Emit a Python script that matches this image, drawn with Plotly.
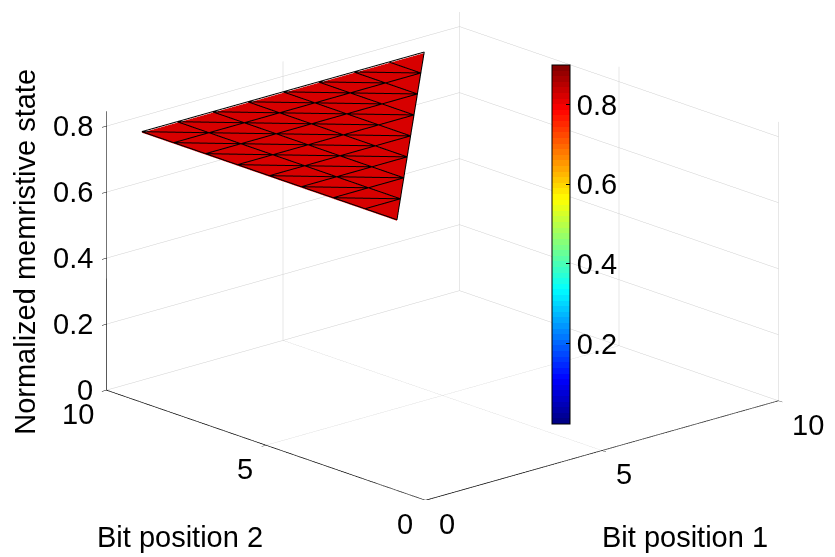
import numpy as np
import plotly.graph_objects as go

# ---------------- data ----------------
bit_positions = [1, 2, 3, 4, 5, 6, 7, 8, 9, 10]
# normalized memristive state for each bit pair (bit1 < bit2)
# row k -> bit position 1 = k+1, entries -> bit position 2 = bit1+1 .. 10
state_rows = [
    [0.75, 0.75, 0.75, 0.75, 0.75, 0.75, 0.75, 0.75, 0.75],
    [0.75, 0.75, 0.75, 0.75, 0.75, 0.75, 0.75, 0.75],
    [0.75, 0.75, 0.75, 0.75, 0.75, 0.75, 0.75],
    [0.75, 0.75, 0.75, 0.75, 0.75, 0.75],
    [0.75, 0.75, 0.75, 0.75, 0.75],
    [0.75, 0.75, 0.75, 0.75],
    [0.75, 0.75, 0.75],
    [0.75, 0.75],
    [0.75],
]
# colour data (face colour level shown on the jet colour bar)
colour_rows = [
    [0.82, 0.82, 0.82, 0.82, 0.82, 0.82, 0.82, 0.82, 0.82],
    [0.82, 0.82, 0.82, 0.82, 0.82, 0.82, 0.82, 0.82],
    [0.82, 0.82, 0.82, 0.82, 0.82, 0.82, 0.82],
    [0.82, 0.82, 0.82, 0.82, 0.82, 0.82],
    [0.82, 0.82, 0.82, 0.82, 0.82],
    [0.82, 0.82, 0.82, 0.82],
    [0.82, 0.82, 0.82],
    [0.82, 0.82],
    [0.82],
]
xy_ticks = [0, 5, 10]
z_ticks = [0, 0.2, 0.4, 0.6, 0.8]
cbar_ticks = [0.2, 0.4, 0.6, 0.8]
x_title = "Bit position 1"
y_title = "Bit position 2"
z_title = "Normalized memristive state"

# ---------------- build triangulated mesh ----------------
xs, ys, zs, cs = [], [], [], []
index = {}
for r, row in enumerate(state_rows):
    b1 = bit_positions[r]
    for c, val in enumerate(row):
        b2 = bit_positions[r + 1 + c]
        index[(b1, b2)] = len(xs)
        xs.append(b1); ys.append(b2); zs.append(val); cs.append(colour_rows[r][c])

tris = []
for (i, j) in list(index.keys()):
    if (i + 1, j) in index and (i, j + 1) in index and (i + 1, j + 1) in index:
        tris.append((index[(i, j)], index[(i + 1, j)], index[(i, j + 1)]))
        tris.append((index[(i + 1, j)], index[(i + 1, j + 1)], index[(i, j + 1)]))
    if j == i + 1 and (i, j + 1) in index and (i + 1, j + 1) in index:
        tris.append((index[(i, j)], index[(i, j + 1)], index[(i + 1, j + 1)]))

I = [t[0] for t in tris]; J = [t[1] for t in tris]; K = [t[2] for t in tris]

edges = set()
for t in tris:
    for a, b in ((t[0], t[1]), (t[1], t[2]), (t[2], t[0])):
        edges.add((min(a, b), max(a, b)))
ex, ey, ez = [], [], []
for a, b in sorted(edges):
    ex += [xs[a], xs[b], None]
    ey += [ys[a], ys[b], None]
    ez += [zs[a] + 0.003, zs[b] + 0.003, None]

# MATLAB-like jet colormap (64 discrete levels)
def jet(v):
    r = min(max(1.5 - abs(4 * v - 3), 0), 1)
    g = min(max(1.5 - abs(4 * v - 2), 0), 1)
    b = min(max(1.5 - abs(4 * v - 1), 0), 1)
    return f"rgb({int(round(r*255))},{int(round(g*255))},{int(round(b*255))})"

n = 64
jet_scale = []
for k in range(n):
    col = jet((k + 0.5) / n)
    jet_scale.append([k / n, col])
    jet_scale.append([(k + 1) / n, col])

FONT = "Liberation Sans, Arial, Helvetica, sans-serif"
FS = 29

fig = go.Figure()
fig.add_trace(go.Mesh3d(
    x=xs, y=ys, z=zs, i=I, j=J, k=K,
    intensity=cs, intensitymode="vertex",
    colorscale=jet_scale, cmin=0, cmax=0.9,
    flatshading=True,
    lighting=dict(ambient=1.0, diffuse=0.0, specular=0.0, roughness=1.0, fresnel=0.0),
    hoverinfo="skip",
    colorbar=dict(
        x=544 / 835, xanchor="left", xpad=0,
        y=1 - 236 / 557, yanchor="middle", ypad=0,
        len=359 / 557, lenmode="fraction",
        thickness=18, thicknessmode="pixels",
        outlinecolor="black", outlinewidth=1,
        tickvals=cbar_ticks, ticktext=[str(t) for t in cbar_ticks],
        ticks="inside", ticklen=4, tickcolor="black",
        tickfont=dict(family=FONT, size=FS, color="black"),
    ),
))
fig.add_trace(go.Scatter3d(
    x=ex, y=ey, z=ez, mode="lines",
    line=dict(color="black", width=2),
    hoverinfo="skip", showlegend=False,
))

axis_common = dict(
    showbackground=False, showgrid=True, gridcolor="#cfcfcf", gridwidth=1,
    zeroline=False, showline=True, linecolor="black", linewidth=1.5,
    ticks="outside", ticklen=6, tickcolor="black",
    showticklabels=False, title=dict(text=""),
    showspikes=False,
)

# tick labels and titles as scene annotations (placed at axis coordinates)
ann = []
tf = dict(family=FONT, size=FS, color="black")
for t in xy_ticks:
    ann.append(dict(x=t, y=0, z=0, text=str(t), showarrow=False, font=tf,
                    xanchor="left", yanchor="top", xshift=11, yshift=-6))
    ann.append(dict(x=0, y=t, z=0, text=str(t), showarrow=False, font=tf,
                    xanchor="right", yanchor="top", xshift=-11, yshift=-6))
for t in z_ticks:
    ann.append(dict(x=0, y=10, z=t, text=str(t), showarrow=False, font=tf,
                    xanchor="right", yanchor="middle", xshift=-12, yshift=0))
ann.append(dict(x=7.5, y=0, z=0, text=x_title, showarrow=False, font=tf,
                xanchor="center", yanchor="middle", xshift=-6, yshift=-112))
ann.append(dict(x=0, y=7.5, z=0, text=y_title, showarrow=False, font=tf,
                xanchor="center", yanchor="middle", xshift=-7, yshift=-119))
ann.append(dict(x=0, y=10, z=0.4, text=z_title, showarrow=False, font=tf, textangle=-90,
                xanchor="center", yanchor="middle", xshift=-82, yshift=6))

r = 3.0
d = np.array([-0.637, -0.705, 0.312])
d = d / np.linalg.norm(d) * r
S = 1.95

fig.update_layout(
    width=835, height=557,
    margin=dict(l=0, r=0, t=0, b=0),
    paper_bgcolor="white",
    font=dict(family=FONT, size=FS, color="black"),
    showlegend=False,
    scene=dict(
        domain=dict(x=[0.083, 0.959], y=[0.117, 0.993]),
        xaxis=dict(range=[0, 10], tickvals=xy_ticks, **axis_common),
        yaxis=dict(range=[0, 10], tickvals=xy_ticks, **axis_common),
        zaxis=dict(range=[0, 0.845], tickvals=z_ticks, **axis_common),
        aspectmode="manual", aspectratio=dict(x=1 * S, y=1 * S, z=0.617 * S),
        camera=dict(eye=dict(x=d[0], y=d[1], z=d[2]), up=dict(x=0, y=0, z=1),
                    center=dict(x=0, y=0, z=0), projection=dict(type="orthographic")),
        annotations=ann,
    ),
)

fig.write_html("out.html")
